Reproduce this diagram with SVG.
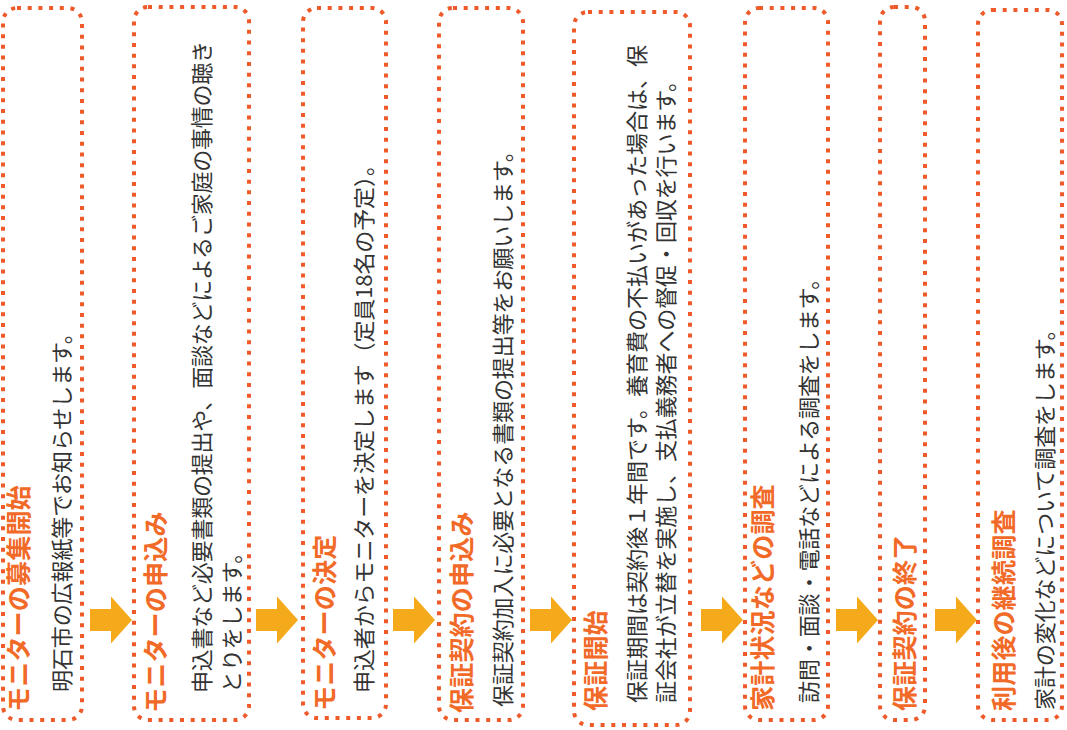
<svg xmlns="http://www.w3.org/2000/svg" width="1067" height="730" viewBox="0 0 1067 730">
<style>
.box{fill:#ffffff;stroke:#ef5a2a;stroke-width:4;stroke-dasharray:4 6.7;stroke-linecap:butt}
.ttl{font-family:"Noto Sans CJK JP","Noto Sans",sans-serif;font-weight:bold;font-size:25px;fill:#f26a28;letter-spacing:0.2px;dominant-baseline:central}
.txt{font-family:"Noto Sans CJK JP","Noto Sans",sans-serif;font-size:22px;fill:#333333;letter-spacing:-0.1px;dominant-baseline:central}
.arr{fill:#f5aa1c}
</style>
<defs>
<path id="arrow" d="M0,-11 H21 V-23.5 L42,0 L21,23.5 V11 H0 Z"/>
</defs>
<rect width="1067" height="730" fill="#ffffff"/>
<g id="connectors">
<use href="#arrow" class="arr" x="90" y="620"/>
<use href="#arrow" class="arr" x="256" y="620"/>
<use href="#arrow" class="arr" x="393" y="620"/>
<use href="#arrow" class="arr" x="530" y="620"/>
<use href="#arrow" class="arr" x="701" y="620"/>
<use href="#arrow" class="arr" x="836" y="620"/>
<use href="#arrow" class="arr" x="935" y="620"/>
</g>
<g id="node1">
<rect class="box" x="3" y="8" width="79" height="712" rx="14"/>
<text class="ttl" transform="translate(17,712) rotate(-90)">モニターの募集開始</text>
<text class="txt" transform="translate(60,692) rotate(-90)">明石市の広報紙等でお知らせします。</text>
</g>
<g id="node2">
<rect class="box" x="134" y="7" width="115" height="713" rx="14"/>
<text class="ttl" transform="translate(154,713) rotate(-90)">モニターの申込み</text>
<text class="txt" transform="translate(200,693) rotate(-90)" textLength="652" lengthAdjust="spacing">申込書など必要書類の提出や、面談などによるご家庭の事情の聴き</text>
<text class="txt" transform="translate(230,693) rotate(-90)">とりをします。</text>
</g>
<g id="node3">
<rect class="box" x="303" y="8" width="83" height="710" rx="14"/>
<text class="ttl" transform="translate(323,711) rotate(-90)">モニターの決定</text>
<text class="txt" transform="translate(362,693) rotate(-90)">申込者からモニターを決定します（定員18名の予定）。</text>
</g>
<g id="node4">
<rect class="box" x="439" y="8" width="84" height="712" rx="14"/>
<text class="ttl" transform="translate(460,713) rotate(-90)">保証契約の申込み</text>
<text class="txt" transform="translate(501,707) rotate(-90)">保証契約加入に必要となる書類の提出等をお願いします。</text>
</g>
<g id="node5">
<rect class="box" x="574" y="12" width="116" height="713" rx="14"/>
<text class="ttl" transform="translate(594,711) rotate(-90)">保証開始</text>
<text class="txt" transform="translate(635,703) rotate(-90)" textLength="658" lengthAdjust="spacing">保証期間は契約後１年間です。養育費の不払いがあった場合は、保</text>
<text class="txt" transform="translate(664,703) rotate(-90)">証会社が立替を実施し、支払義務者への督促・回収を行います。</text>
</g>
<g id="node6">
<rect class="box" x="745" y="8" width="83" height="712" rx="14"/>
<text class="ttl" transform="translate(761,711) rotate(-90)">家計状況などの調査</text>
<text class="txt" transform="translate(807,703) rotate(-90)">訪問・面談・電話などによる調査をします。</text>
</g>
<g id="node7">
<rect class="box" x="880" y="7" width="45" height="713" rx="14"/>
<text class="ttl" transform="translate(903,711) rotate(-90)">保証契約の終了</text>
</g>
<g id="node8">
<rect class="box" x="978" y="10" width="84" height="710" rx="14"/>
<text class="ttl" transform="translate(1002,711) rotate(-90)">利用後の継続調査</text>
<text class="txt" transform="translate(1043,710) rotate(-90)">家計の変化などについて調査をします。</text>
</g>
</svg>
